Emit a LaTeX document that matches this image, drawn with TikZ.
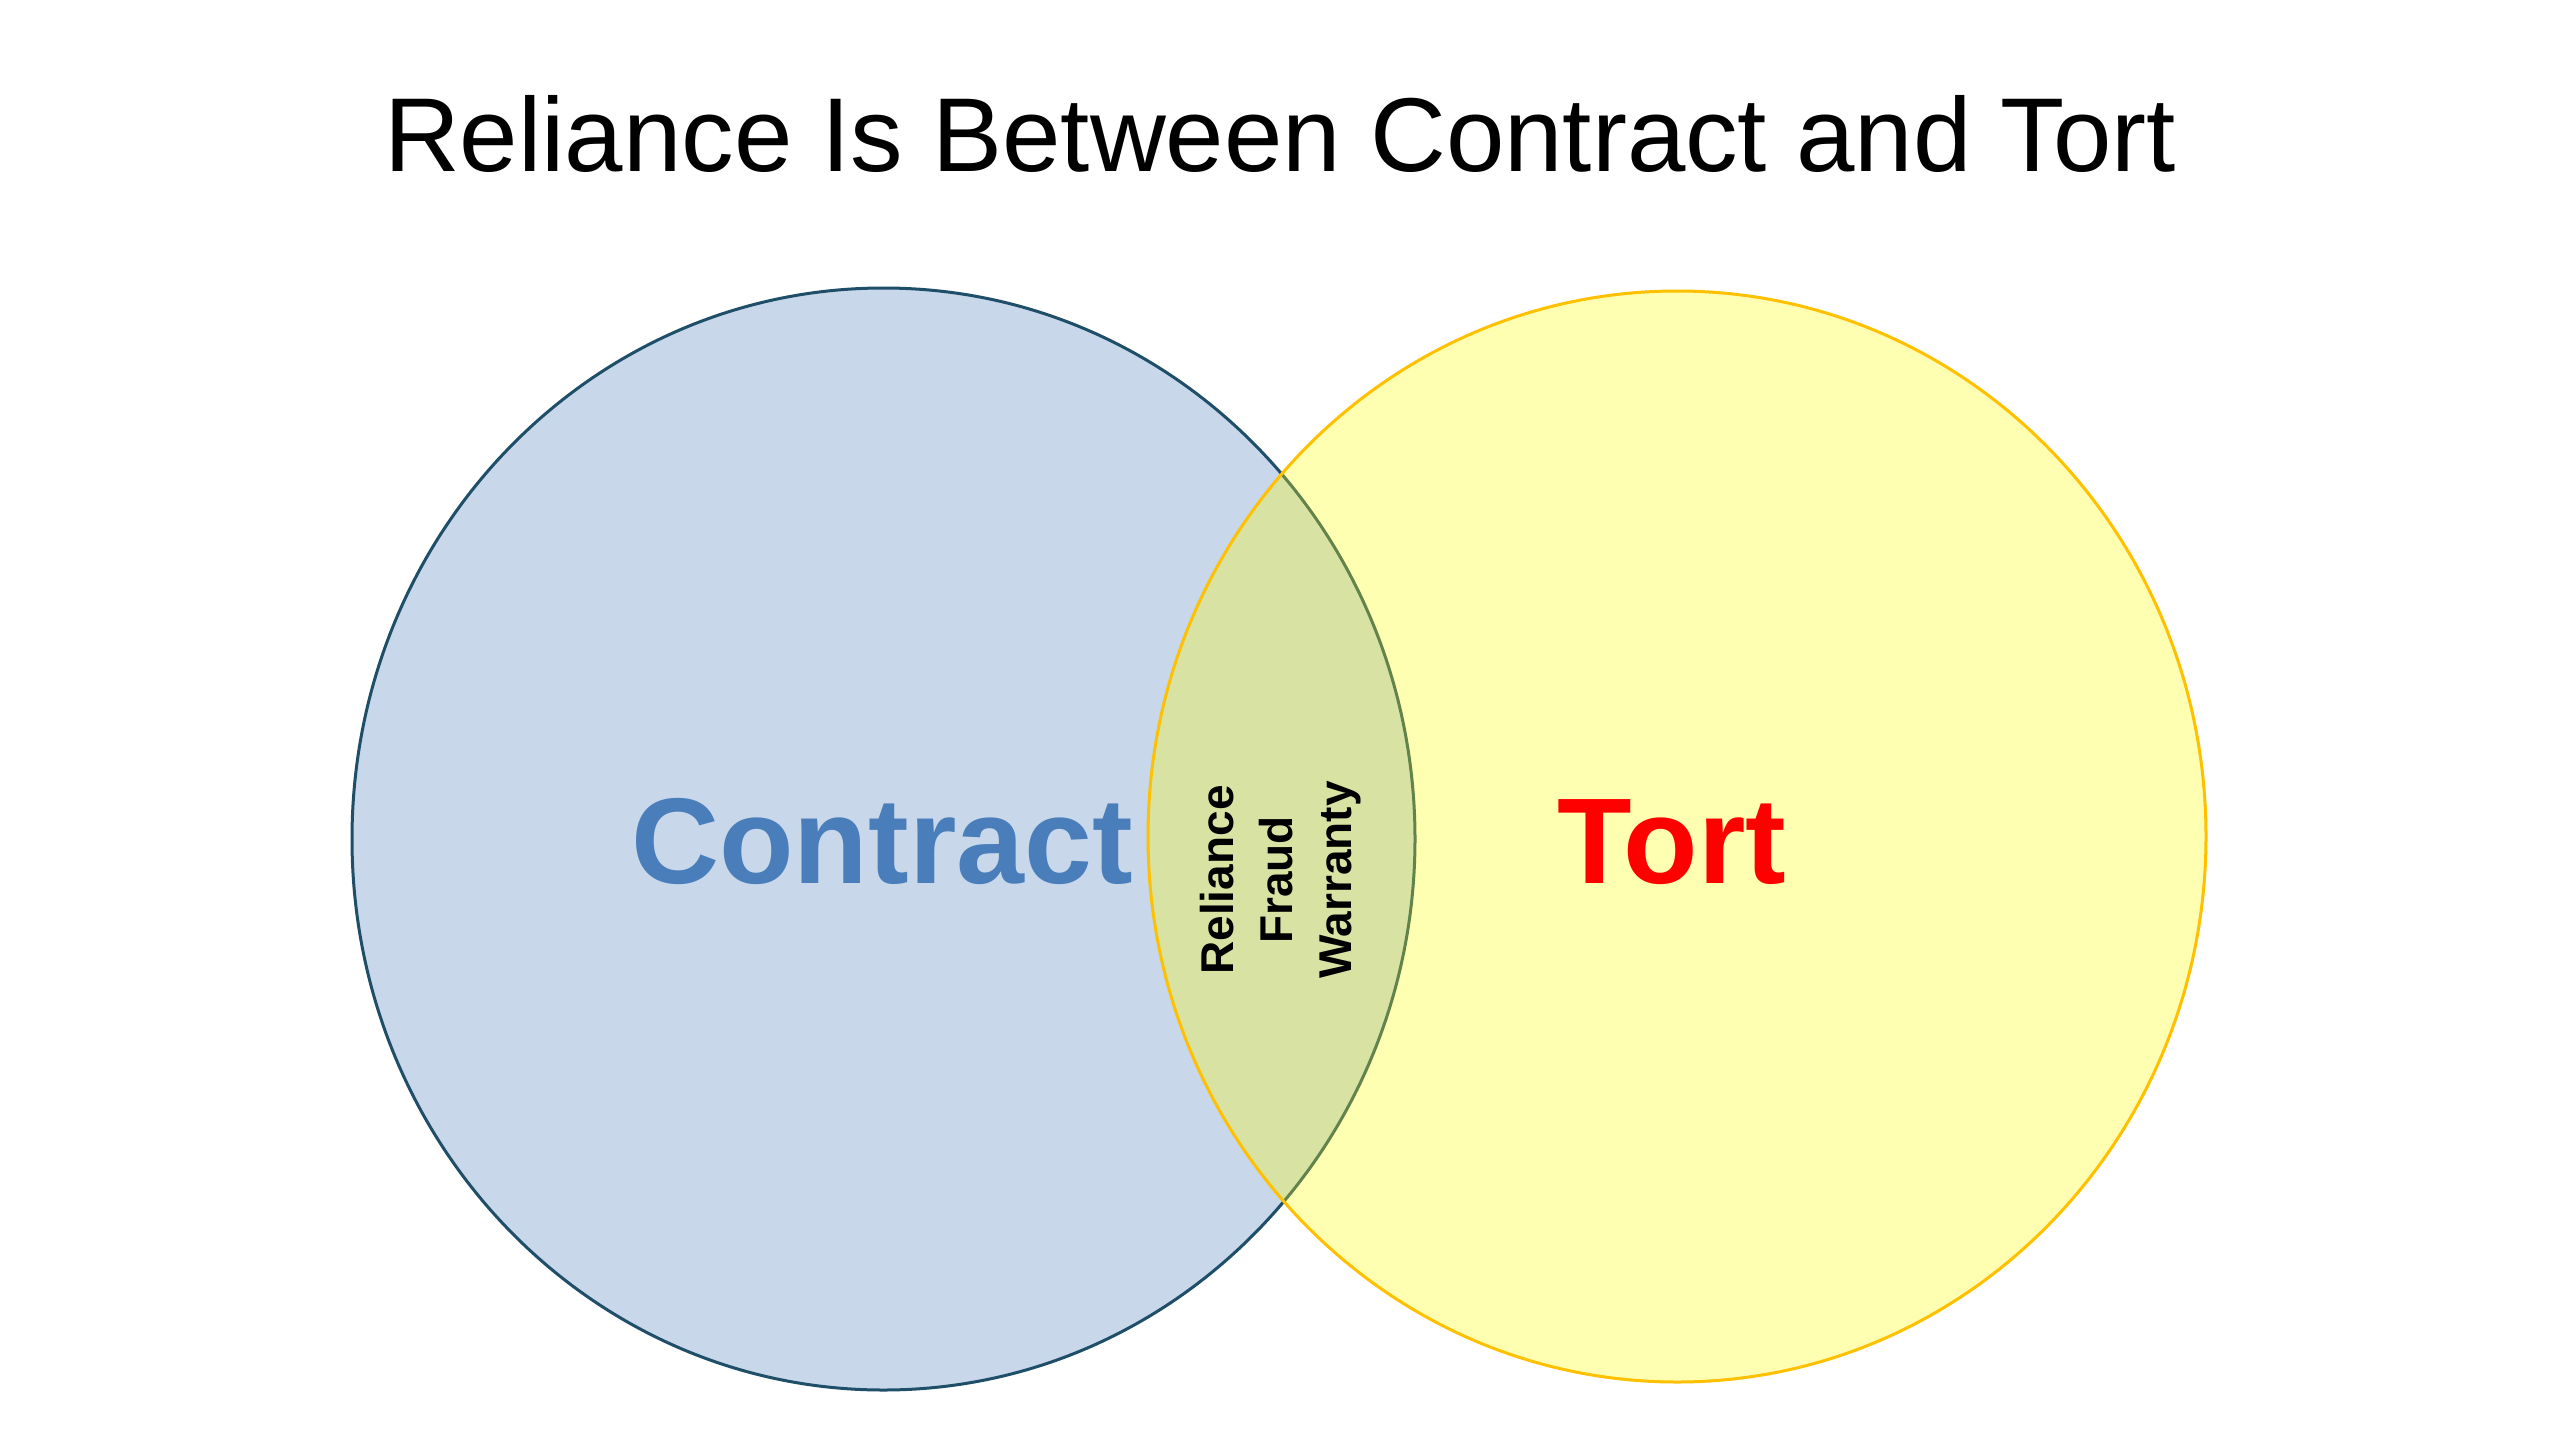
\documentclass[tikz,border=0pt]{standalone}
\usepackage{fontspec}
\setmainfont{Liberation Sans}
\usetikzlibrary{shapes.geometric}
\definecolor{contractfill}{HTML}{C8D8EA}
\definecolor{contractline}{HTML}{1F4E69}
\definecolor{tortfill}{HTML}{FFFF00}
\definecolor{tortline}{HTML}{FFC000}
\definecolor{contracttext}{HTML}{4A7EBB}
\definecolor{torttext}{HTML}{FF0000}
\tikzset{
  setcircle/.style={ellipse, inner sep=0pt, line width=3pt},
  bigword/.style={anchor=base, font=\fontsize{122}{140}\selectfont\bfseries},
}
\begin{document}
\begin{tikzpicture}[x=1pt,y=-1pt]
\fill[white] (0,0) rectangle (2560,1440);
\useasboundingbox (0,0) rectangle (2560,1440);
\node[anchor=base, font=\fontsize{105}{120}\selectfont] (title) at (1280,171) {Reliance Is Between Contract and Tort};
\node[setcircle, fill=contractfill, draw=contractline, minimum width=1063pt, minimum height=1102pt] (contract) at (883.5,839) {};
\node[setcircle, fill=tortfill, fill opacity=0.3, draw=tortline, draw opacity=1, minimum width=1058pt, minimum height=1091pt] (tort) at (1677,836.5) {};
\node[bigword, text=contracttext] (contractlabel) at (882,883) {Contract};
\node[bigword, text=torttext] (tortlabel) at (1672,883) {Tort};
\node[rotate=90, align=center, font=\fontsize{46}{59}\selectfont\bfseries] (both) at (1281,880) {Reliance\\Fraud\\Warranty};
\end{tikzpicture}
\end{document}
